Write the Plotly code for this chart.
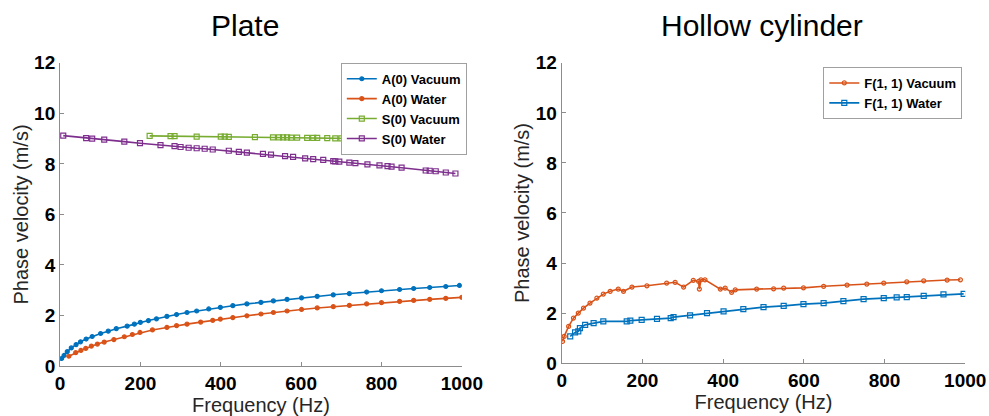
import plotly.graph_objects as go

# ---------------- Plate data ----------------
a0_vac_f = [4, 10, 18, 28, 40, 51, 65, 80, 101, 120, 140, 167, 185, 200, 220, 240, 266, 290, 316, 340,
            370, 399, 430, 465, 500, 531, 565, 601, 640, 680, 720, 763, 800, 845, 880, 920, 960, 994]
a0_vac_v = [0.30, 0.42, 0.57, 0.72, 0.85, 0.96, 1.07, 1.17, 1.29, 1.38, 1.48, 1.58, 1.66, 1.73, 1.80, 1.87,
            1.97, 2.04, 2.12, 2.18, 2.26, 2.32, 2.39, 2.46, 2.52, 2.58, 2.64, 2.70, 2.76, 2.82, 2.87, 2.93,
            2.98, 3.03, 3.07, 3.11, 3.15, 3.19]

a0_wat_f = [22, 39, 52, 64, 78, 93, 110, 134, 160, 180, 199, 230, 266, 290, 316, 350, 380, 399, 430, 465,
            500, 531, 565, 601, 640, 680, 720, 763, 800, 845, 880, 920, 960, 1000]
a0_wat_v = [0.39, 0.53, 0.62, 0.70, 0.79, 0.87, 0.95, 1.05, 1.16, 1.25, 1.33, 1.43, 1.53, 1.60, 1.66, 1.74,
            1.81, 1.86, 1.92, 1.99, 2.06, 2.12, 2.18, 2.24, 2.30, 2.35, 2.40, 2.46, 2.51, 2.56, 2.60, 2.64,
            2.68, 2.72]

s0_vac_f = [223, 275, 285, 340, 400, 410, 420, 485, 530, 545, 555, 565, 575, 590, 615, 630, 640, 665, 685,
            700, 760, 775, 785, 795, 830, 850, 885, 900, 920, 955, 965, 975, 993]
s0_vac_v = [9.11, 9.10, 9.10, 9.08, 9.08, 9.08, 9.07, 9.06, 9.05, 9.05, 9.05, 9.05, 9.04, 9.04, 9.03, 9.03,
            9.03, 9.02, 9.01, 9.01, 9.00, 9.00, 8.99, 8.99, 8.98, 8.98, 8.96, 8.96, 8.95, 8.94, 8.94, 8.93, 8.93]

s0_wat_f = [8, 65, 80, 110, 160, 199, 250, 285, 300, 320, 340, 360, 380, 420, 445, 465, 505, 525, 560, 580,
            610, 630, 655, 680, 685, 695, 720, 735, 765, 795, 815, 825, 850, 910, 920, 935, 960, 984]
s0_wat_v = [9.12, 9.02, 9.00, 8.96, 8.88, 8.82, 8.74, 8.70, 8.67, 8.64, 8.62, 8.60, 8.57, 8.52, 8.48, 8.45,
            8.40, 8.37, 8.31, 8.28, 8.22, 8.19, 8.16, 8.11, 8.10, 8.09, 8.05, 8.03, 7.98, 7.94, 7.91, 7.89,
            7.85, 7.74, 7.73, 7.71, 7.66, 7.62]

# ---------------- Hollow cylinder data ----------------
f11_vac_f = [2, 6, 17, 29, 41, 54, 70, 87, 103, 120, 140, 153, 174, 211, 260, 281, 302, 326, 339, 341,
             345, 355, 393, 405, 421, 430, 483, 525, 550, 599, 649, 707, 756, 798, 855, 897, 955, 988]
f11_vac_v = [0.87, 1.07, 1.47, 1.80, 2.00, 2.20, 2.40, 2.60, 2.76, 2.87, 2.96, 2.87, 3.04, 3.09, 3.20, 3.23,
             3.04, 3.31, 3.27, 2.96, 3.33, 3.33, 2.96, 3.00, 2.83, 2.93, 2.96, 2.97, 3.00, 3.01, 3.07, 3.12,
             3.16, 3.20, 3.25, 3.29, 3.32, 3.33]

f11_wat_f = [21, 33, 41, 45, 58, 79, 103, 161, 170, 198, 236, 270, 277, 318, 360, 401, 450, 500, 550, 599,
             649, 698, 748, 798, 830, 855, 897, 946, 996]
f11_wat_v = [1.07, 1.23, 1.27, 1.40, 1.53, 1.60, 1.67, 1.67, 1.70, 1.73, 1.77, 1.80, 1.84, 1.91, 2.00, 2.07,
             2.16, 2.24, 2.29, 2.36, 2.40, 2.48, 2.56, 2.60, 2.63, 2.64, 2.69, 2.75, 2.77]

x_ticks = [0, 200, 400, 600, 800, 1000]
y_ticks = [0, 2, 4, 6, 8, 10, 12]

BLUE = "#0072BD"
ORANGE = "#D95319"
GREEN = "#77AC30"
PURPLE = "#7E2F8E"

FONT = "Liberation Sans, Arial, sans-serif"

fig = go.Figure()

def add(x, y, name, color, symbol, size, xa, ya, legend):
    fig.add_trace(go.Scatter(
        x=x, y=y, name=f"<b>{name}</b>", mode="lines+markers",
        line=dict(color=color, width=1.6),
        marker=dict(color=color, symbol=symbol, size=size, line=dict(color=color, width=1.2)),
        xaxis=xa, yaxis=ya, legend=legend,
    ))

add(a0_vac_f, a0_vac_v, "A(0) Vacuum", BLUE, "circle", 4, "x", "y", "legend")
add(a0_wat_f, a0_wat_v, "A(0) Water", ORANGE, "circle", 4, "x", "y", "legend")
add(s0_vac_f, s0_vac_v, "S(0) Vacuum", GREEN, "square-open", 5, "x", "y", "legend")
add(s0_wat_f, s0_wat_v, "S(0) Water", PURPLE, "square-open", 5, "x", "y", "legend")
add(f11_vac_f, f11_vac_v, "F(1, 1) Vacuum", ORANGE, "circle-open", 4, "x2", "y2", "legend2")
add(f11_wat_f, f11_wat_v, "F(1, 1) Water", BLUE, "square-open", 5, "x2", "y2", "legend2")

tickfont = dict(family=FONT, size=19, color="black")
titlefont = dict(family=FONT, size=20, color="#262626")

def xaxis(domain, anchor):
    return dict(domain=domain, anchor=anchor, range=[0, 1000], tickvals=x_ticks,
                ticktext=[f"<b>{v}</b>" for v in x_ticks], automargin=False,
                tickfont=tickfont, showline=True, linecolor="#8c8c8c", linewidth=1,
                ticks="inside", ticklen=4, tickcolor="#8c8c8c", showgrid=False, zeroline=False,
                title=dict(text="Frequency (Hz)", font=titlefont, standoff=4))

def yaxis(domain, anchor):
    return dict(domain=domain, anchor=anchor, range=[0, 12], tickvals=y_ticks,
                ticktext=[f"<b>{v}</b>" for v in y_ticks], automargin=False,
                tickfont=tickfont, showline=True, linecolor="#8c8c8c", linewidth=1,
                ticks="inside", ticklen=4, tickcolor="#8c8c8c", showgrid=False, zeroline=False,
                title=dict(text="Phase velocity (m/s)", font=titlefont, standoff=0))

legfont = dict(family=FONT, size=13, color="black")

fig.update_layout(
    width=989, height=416,
    margin=dict(l=0, r=0, t=0, b=0, autoexpand=False),
    paper_bgcolor="white", plot_bgcolor="white",
    xaxis=xaxis([0.0607, 0.467], "y"),
    yaxis=yaxis([0.12, 0.849], "x"),
    xaxis2=xaxis([0.568, 0.976], "y2"),
    yaxis2=yaxis([0.127, 0.849], "x2"),
    legend=dict(x=0.472, y=0.849, xanchor="right", yanchor="top", bgcolor="white",
                bordercolor="#a0a0a0", borderwidth=1, font=legfont, tracegroupgap=0,
                itemwidth=30),
    legend2=dict(x=0.973, y=0.839, xanchor="right", yanchor="top", bgcolor="white",
                 bordercolor="#a0a0a0", borderwidth=1, font=legfont, itemwidth=30),
    annotations=[
        dict(text="Plate", x=0.248, y=1 - 25 / 416, xref="paper", yref="paper",
             xanchor="center", yanchor="middle",
             showarrow=False, font=dict(family=FONT, size=30, color="black")),
        dict(text="Hollow cylinder", x=0.770, y=1 - 25 / 416, xref="paper", yref="paper",
             xanchor="center", yanchor="middle",
             showarrow=False, font=dict(family=FONT, size=30, color="black")),
    ],
)

fig.write_html("out.html")
